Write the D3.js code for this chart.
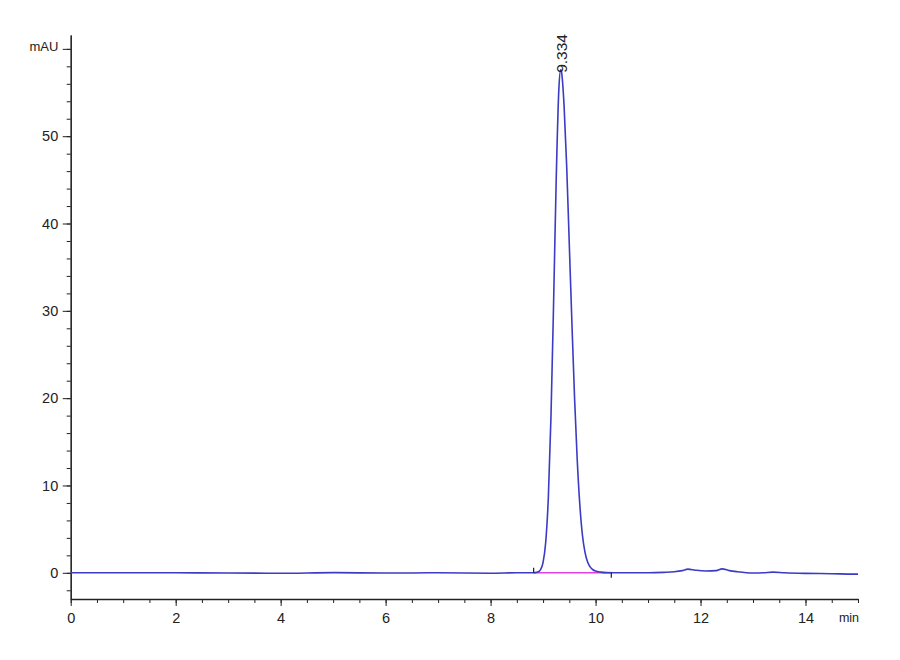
<!DOCTYPE html>
<html>
<head>
<meta charset="utf-8">
<script src="https://cdn.jsdelivr.net/npm/d3@7"></script>
<style>
  body { margin: 0; background: #fff; }
  svg text { font-family: "Liberation Sans", Arial, sans-serif; fill: #222; }
</style>
</head>
<body>
<svg id="chart" width="900" height="660"></svg>
<script>
// retention time (min) and absorbance (mAU)
const times = [
  0, 1, 2, 3, 4, 5, 6, 7, 8, 8.5, 8.8, 8.9, 8.95, 9.0, 9.05, 9.1, 9.15, 9.2, 9.25, 9.3, 9.334,
  9.35, 9.4, 9.45, 9.5, 9.55, 9.6, 9.65, 9.7, 9.75, 9.8, 9.85, 9.9, 9.95, 10.0, 10.1, 10.2,
  10.5, 11.0, 11.3, 11.5, 11.65, 11.76, 11.9, 12.1, 12.3, 12.41, 12.55, 12.7, 13.0, 13.2, 13.38,
  13.6, 14.0, 14.5, 14.9, 15.0
];
const absorb = [
  0.0, 0.0, 0.0, -0.02, -0.05, 0.02, -0.03, 0.0, -0.05, 0.0, 0.0, 0.1, 0.34, 1.2, 3.5, 8.6, 17.8, 30.8, 45.0, 55.3, 57.6,
  57.4, 53.5, 46.5, 37.5, 28.5, 20.0, 13.0, 7.8, 4.3, 2.3, 1.2, 0.65, 0.35, 0.2, 0.08, 0.02,
  0.0, 0.0, 0.05, 0.12, 0.25, 0.42, 0.3, 0.2, 0.25, 0.45, 0.25, 0.12, -0.03, 0.0, 0.08,
  0.0, -0.07, -0.1, -0.15, -0.15
];

// peak annotation and integration baseline
const peakTimes = [9.334];
const peakHeights = [57.6];
const peakLabels = ["9.334"];
const baseStart = [8.82, 0.0];
const baseEnd = [10.3, 0.0];

const xTicks = [0, 2, 4, 6, 8, 10, 12, 14];
const yTicks = [0, 10, 20, 30, 40, 50];
const yUnitTick = 60;

const svg = d3.select("#chart");

const x = d3.scaleLinear().domain([0, 15]).range([70.7, 858]);
const y = d3.scaleLinear().domain([-3, 61.6]).range([599, 34.9]);

// x axis: minor ticks every 0.5 min, then labelled majors
const xMinor = d3.range(0, 15.01, 0.5);
svg.append("g")
  .attr("transform", `translate(0,${y(-3)})`)
  .call(d3.axisBottom(x).tickValues(xMinor).tickSize(4).tickSizeOuter(0).tickFormat(""))
  .call(g => g.selectAll("line,path").attr("stroke", "#222"));

svg.append("g")
  .attr("transform", `translate(0,${y(-3)})`)
  .call(d3.axisBottom(x).tickValues(xTicks).tickSize(7).tickSizeOuter(0).tickFormat(d3.format("d")))
  .call(g => g.select(".domain").attr("stroke", "#222").attr("stroke-width", 1.3))
  .call(g => g.selectAll("line").attr("stroke", "#222"))
  .call(g => g.selectAll("text").attr("font-size", 14.5).attr("dy", "0.95em").attr("fill", "#222"));

svg.append("text")
  .attr("x", 849).attr("y", 622)
  .attr("text-anchor", "middle")
  .attr("font-size", 12.5)
  .text("min");

// y axis: minor ticks every 2 mAU, majors every 10
const yMinor = d3.range(-2, 61, 2);
svg.append("g")
  .attr("transform", `translate(${x(0)},0)`)
  .call(d3.axisLeft(y).tickValues(yMinor).tickSize(4).tickSizeOuter(0).tickFormat(""))
  .call(g => g.selectAll("line,path").attr("stroke", "#222"));

svg.append("g")
  .attr("transform", `translate(${x(0)},0)`)
  .call(d3.axisLeft(y).tickValues(yTicks.concat([yUnitTick])).tickSize(8).tickSizeOuter(0)
    .tickFormat(d => d === yUnitTick ? "mAU" : d))
  .call(g => g.select(".domain").attr("stroke", "#222").attr("stroke-width", 1.3))
  .call(g => g.selectAll("line").attr("stroke", "#222"))
  .call(g => g.selectAll("text").attr("font-size", 14.5).attr("fill", "#222").attr("dx", "-0.1em"))
  .call(g => g.selectAll(".tick").filter(d => d === yUnitTick).select("text")
    .attr("font-size", 13).attr("dy", "0.1em"));

// integration baseline
svg.append("line")
  .attr("x1", x(baseStart[0])).attr("y1", y(baseStart[1]))
  .attr("x2", x(baseEnd[0])).attr("y2", y(baseEnd[1]))
  .attr("stroke", "#e040e0").attr("stroke-width", 1.6);

// trace
const pts = times.map((t, i) => [t, absorb[i]]);
svg.append("path")
  .datum(pts)
  .attr("fill", "none")
  .attr("stroke", "#3b3bc4")
  .attr("stroke-width", 1.6)
  .attr("d", d3.line().x(d => x(d[0])).y(d => y(d[1])).curve(d3.curveMonotoneX));

// start / end markers of the integrated peak
svg.append("line")
  .attr("x1", x(baseStart[0])).attr("x2", x(baseStart[0]))
  .attr("y1", y(baseStart[1]) - 5).attr("y2", y(baseStart[1]))
  .attr("stroke", "#222").attr("stroke-width", 1.2);
svg.append("line")
  .attr("x1", x(baseEnd[0])).attr("x2", x(baseEnd[0]))
  .attr("y1", y(baseEnd[1])).attr("y2", y(baseEnd[1]) + 5)
  .attr("stroke", "#222").attr("stroke-width", 1.2);

// retention time label
peakTimes.forEach((t, i) => {
  const px = x(t) + 6, py = y(peakHeights[i]) + 3;
  svg.append("text")
    .attr("transform", `translate(${px},${py}) rotate(-90)`)
    .attr("font-size", 15.5)
    .attr("text-anchor", "start")
    .text(peakLabels[i]);
});
</script>
</body>
</html>
